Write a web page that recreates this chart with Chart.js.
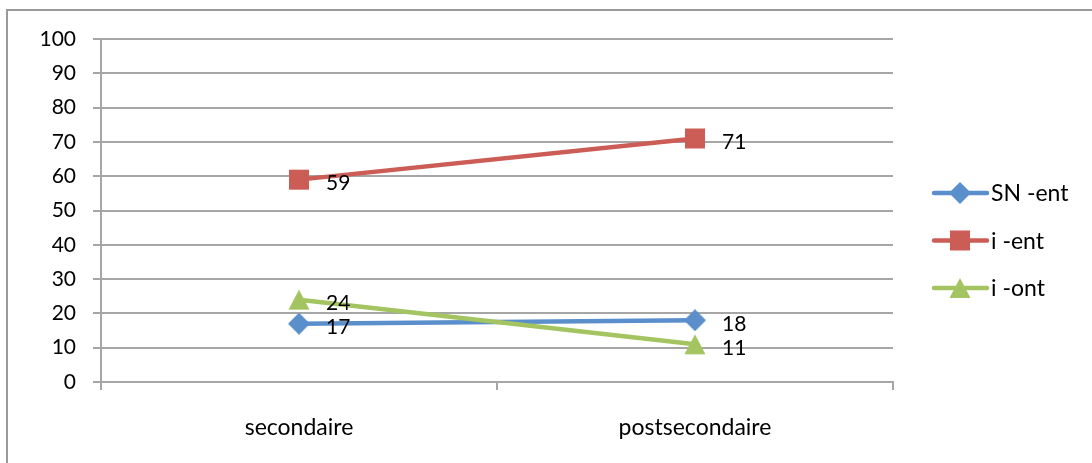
<!DOCTYPE html>
<html>
<head>
<meta charset="utf-8">
<script src="https://cdn.jsdelivr.net/npm/chart.js@4/dist/chart.umd.min.js"></script>
<style>
  html, body { margin: 0; padding: 0; background: #fff; overflow: hidden; }
  #wrap { position: relative; width: 1092px; height: 463px; }
</style>
</head>
<body>
<div id="wrap"><canvas id="chart"></canvas></div>
<script>
// Categories and series values
const categories = ['secondaire', 'postsecondaire'];
const seriesNames = ['SN -ent', 'i -ent', 'i -ont'];
const snEnt = [17, 18];
const iEnt = [59, 71];
const iOnt = [24, 11];
const yMin = 0, yMax = 100, yStep = 10;

const FONT = 'Lato, "Open Sans", sans-serif';
const FONT_SIZE = 21;
const TEXT_SIZE = 23;
const GRID = '#a6a6a6';

const colors = {
  blue: '#5A8FCC',
  red: '#CC5C56',
  green: '#A3C461'
};

// Marker images: diamond, square, triangle
function makeMarker(kind, color) {
  const c = document.createElement('canvas');
  const s = 22;
  c.width = s; c.height = s;
  const g = c.getContext('2d');
  g.fillStyle = color;
  g.beginPath();
  if (kind === 'diamond') {
    g.moveTo(11, 0); g.lineTo(22, 11); g.lineTo(11, 22); g.lineTo(0, 11);
  } else if (kind === 'square') {
    g.rect(1, 1, 20, 20);
  } else {
    g.moveTo(11, 1); g.lineTo(21.5, 21); g.lineTo(0.5, 21);
  }
  g.closePath();
  g.fill();
  return c;
}

const markers = [
  makeMarker('diamond', colors.blue),
  makeMarker('square', colors.red),
  makeMarker('triangle', colors.green)
];

function series(i, data, color, order) {
  return {
    label: seriesNames[i],
    data: data,
    borderColor: color,
    backgroundColor: color,
    borderWidth: 4.5,
    tension: 0,
    pointStyle: markers[i],
    pointRadius: 11,
    pointHoverRadius: 11,
    order: order
  };
}

// Outer frame of the chart
const framePlugin = {
  id: 'frame',
  beforeDraw(chart) {
    const ctx = chart.ctx;
    ctx.save();
    ctx.strokeStyle = '#9a9a9a';
    ctx.lineWidth = 2;
    ctx.beginPath();
    ctx.moveTo(7, chart.height);
    ctx.lineTo(7, 10);
    ctx.lineTo(chart.width, 10);
    ctx.stroke();
    ctx.restore();
  }
};

// Value labels to the right of each point
const valueLabels = {
  id: 'valueLabels',
  afterDatasetsDraw(chart) {
    const ctx = chart.ctx;
    ctx.save();
    ctx.font = FONT_SIZE + 'px ' + FONT;
    ctx.fillStyle = '#000';
    ctx.textAlign = 'left';
    ctx.textBaseline = 'middle';
    chart.data.datasets.forEach((ds, i) => {
      const meta = chart.getDatasetMeta(i);
      meta.data.forEach((pt, j) => {
        ctx.fillText(String(ds.data[j]), pt.x + 27, pt.y + 4);
      });
    });
    ctx.restore();
  }
};

// Legend on the right: line segment with marker, then series name
const sideLegend = {
  id: 'sideLegend',
  afterDraw(chart) {
    const ctx = chart.ctx;
    ctx.save();
    ctx.font = TEXT_SIZE + 'px ' + FONT;
    ctx.textAlign = 'left';
    ctx.textBaseline = 'middle';
    chart.data.datasets.forEach((ds, i) => {
      const y = 193 + i * 47.5;
      ctx.strokeStyle = ds.borderColor;
      ctx.lineWidth = 4.5;
      ctx.lineCap = 'round';
      ctx.beginPath();
      ctx.moveTo(934, y);
      ctx.lineTo(987, y);
      ctx.stroke();
      const m = ds.pointStyle;
      ctx.drawImage(m, 960 - m.width / 2, y - m.height / 2);
      ctx.fillStyle = '#000';
      ctx.fillText(ds.label, 991, y + 1);
    });
    ctx.restore();
  }
};

new Chart(document.getElementById('chart'), {
  type: 'line',
  data: {
    labels: categories,
    datasets: [
      series(0, snEnt, colors.blue, 3),
      series(1, iEnt, colors.red, 2),
      series(2, iOnt, colors.green, 1)
    ]
  },
  options: {
    responsive: true,
    maintainAspectRatio: false,
    animation: false,
    events: [],
    layout: { padding: { left: 0, right: 199, top: 39, bottom: 0 } },
    plugins: {
      legend: { display: false },
      tooltip: { enabled: false }
    },
    scales: {
      x: {
        offset: true,
        afterFit(scale) { scale.height = 81; },
        grid: {
          offset: true,
          drawOnChartArea: false,
          drawTicks: true,
          tickLength: 8,
          color: GRID,
          lineWidth: 2
        },
        border: { color: GRID, width: 2 },
        ticks: {
          color: '#000',
          padding: 24,
          font: { family: FONT, size: TEXT_SIZE },
          maxRotation: 0
        }
      },
      y: {
        min: yMin,
        max: yMax,
        afterFit(scale) { scale.width = 101; },
        grid: {
          color: GRID,
          lineWidth: 2,
          tickLength: 8
        },
        border: { color: GRID, width: 2 },
        ticks: {
          stepSize: yStep,
          color: '#000',
          padding: 17,
          font: { family: FONT, size: FONT_SIZE }
        }
      }
    }
  },
  plugins: [framePlugin, valueLabels, sideLegend]
});
</script>
</body>
</html>
